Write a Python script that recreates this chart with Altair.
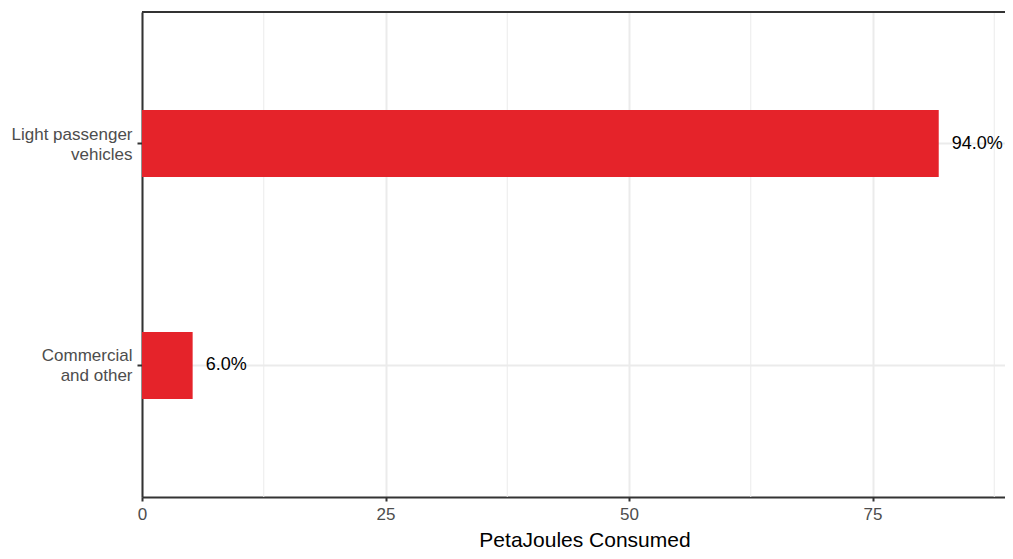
import altair as alt
import pandas as pd

categories = ["Light passenger\nvehicles", "Commercial\nand other"]
values = [81.8, 5.2]
pct_labels = ["94.0%", "6.0%"]
major_ticks = [0, 25, 50, 75]
minor_ticks = [12.5, 37.5, 62.5, 87.5]

df = pd.DataFrame({"cat": categories, "val": values, "lab": pct_labels})
minor_df = pd.DataFrame({"m": minor_ticks})

FONT = "Liberation Sans"
PAD_L = 134
W, H = 997 - PAD_L, 485
XMAX = W / 9.74
xscale = alt.Scale(domain=[0, XMAX], nice=False, zero=True)
yscale = alt.Scale(paddingInner=0.698, paddingOuter=0.4414)

minor = alt.Chart(minor_df).mark_rule(color="#ebebeb", strokeWidth=1).encode(
    x=alt.X("m:Q", scale=xscale)
)

bars = alt.Chart(df).mark_bar(color="#e5232a").encode(
    x=alt.X(
        "val:Q",
        scale=xscale,
        title="PetaJoules Consumed",
        axis=alt.Axis(
            values=major_ticks,
            grid=True,
            gridColor="#ebebeb",
            gridWidth=2,
            domainColor="#333333",
            domainWidth=2,
            tickColor="#333333",
            tickWidth=2,
            tickSize=4,
            labelColor="#4d4d4d",
            labelFontSize=17,
            labelFont=FONT,
            labelPadding=5,
            labelFlush=False,
            titleFont=FONT,
            titleFontSize=21,
            titleFontWeight="normal",
            titleColor="#000000",
            titleX=584.5 - 8 - PAD_L,
            titleY=53,
            titleBaseline="bottom",
            titleAlign="center",
        ),
    ),
    y=alt.Y(
        "cat:N",
        sort=categories,
        scale=yscale,
        title=None,
        axis=alt.Axis(
            grid=True,
            gridColor="#ebebeb",
            gridWidth=2,
            domainColor="#333333",
            domainWidth=2,
            tickColor="#333333",
            tickWidth=2,
            tickSize=5,
            labelColor="#4d4d4d",
            labelFontSize=17,
            labelFont=FONT,
            labelPadding=5,
            labelLineHeight=20,
            labelOffset=-9,
            labelAlign="right",
            labelBaseline="middle",
            labelExpr="split(datum.label, '\\n')",
        ),
    ),
)

text = alt.Chart(df).mark_text(
    align="left", baseline="middle", dx=13, fontSize=18, font=FONT, color="#000000"
).encode(
    x=alt.X("val:Q", scale=xscale),
    y=alt.Y("cat:N", sort=categories, scale=yscale),
    text="lab:N",
)

top_border = alt.Chart(df).mark_rule(color="#333333", strokeWidth=2).encode(
    x=alt.value(0), x2=alt.value(W), y=alt.value(0)
)

chart = (
    alt.layer(minor, bars, text, top_border)
    .properties(
        width=W,
        height=H,
        autosize=alt.AutoSizeParams(type="none"),
        padding={"left": PAD_L, "top": 4, "right": 0, "bottom": 54},
    )
    .configure_view(stroke=None)
    .configure(background="#ffffff")
)

chart.save("out.html", embed_options={"renderer": "svg", "actions": False})
